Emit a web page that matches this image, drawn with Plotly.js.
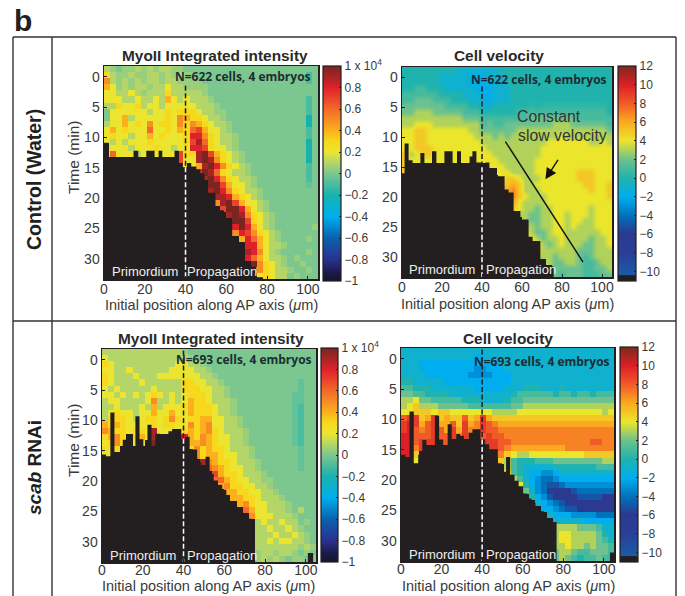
<!DOCTYPE html>
<html><head><meta charset="utf-8">
<script src="https://cdn.plot.ly/plotly-3.0.1.min.js"></script>
<style>html,body{margin:0;padding:0;background:#fff}#c{width:685px;height:596px}</style>
</head><body><div id="c"></div>
<script>
const _ = null;
const xCells = [1.5,4.5,7.5,10.5,13.5,16.5,19.5,22.5,25.5,28.5,31.5,34.5,37.5,40.5,43.5,46.5,49.5,52.5,55.5,58.5,61.5,64.5,67.5,70.5,73.5,76.5,79.5,82.5,85.5,88.5,91.5,94.5,97.5,100.5,103.5];
const yCells = [-1.25,-0.25,0.75,1.75,2.75,3.75,4.75,5.75,6.75,7.75,8.75,9.75,10.75,11.75,12.75,13.75,14.75,15.75,16.75,17.75,18.75,19.75,20.75,21.75,22.75,23.75,24.75,25.75,26.75,27.75,28.75,29.75,30.75,31.75,32.75];

const myoControl = [
[1,.5,0,.5,.5, 1,.5,1,.5,1, 1,.5,.5,0,0, 0,0,0,0,0, 0,0,0,0,0, 0,0,0,0,0, 0,0,0,0,0],
[3,1,.5,.5,1, .5,.5,1,1,.5, 1,.5,1,.5,.5, 0,0,0,0,0, 0,0,0,0,0, 0,0,0,0,0, 0,0,0,-1,0],
[5,1,.5,1,.5, 1,.5,1,1,.5, 1,1,.5,.5,.5, .5,0,0,0,0, 0,0,0,0,0, 0,0,0,0,0, 0,0,0,-1,0],
[4,2,.5,1,.5, 1,1,.5,1,1, 2,1,1,.5,.5, .5,.5,0,0,0, 0,0,0,0,0, 0,0,0,0,0, 0,0,0,0,0],
[2,2,1,1,2, 1,.5,1,1,1, 3,1,1,1,1, 1,.5,0,0,0, 0,0,0,0,0, 0,0,0,0,0, 0,0,0,0,0],
[2,2,2,1,1, 2,1,1,2,1, 4,2,1,2,1, 1,1,.5,0,0, 0,0,0,0,0, 0,0,0,0,0, 0,0,0,-1,0],
[1,1,3,2,2, 3,1,2,2,1, 2,2,2,2,2, 1,1,1,.5,0, 0,0,0,0,0, 0,0,0,0,0, 0,0,0,-1,0],
[0,2,2,2,2, 2,2,1,2,2, 3,2,3,3,3, 2,1,1,.5,.5, 0,0,0,0,0, 0,0,0,0,0, 0,0,0,-1,0],
[0,2,2,4,1, 2,2,2,2,2, 3,2,5,4,3, 3,2,1,1,.5, 0,0,0,0,0, 0,0,0,0,0, 0,0,0,-2,0],
[1,2,2,4,2, 3,2,5,2,3, 3,2,5,3,5, 4,3,2,1,1, .5,0,0,0,0, 0,0,0,0,0, 0,0,0,-2,0],
[2,4,2,3,2, 2,2,6,2,2, 3,2,4,3,6, 7,4,2,2,1, .5,0,0,0,0, 0,0,0,0,0, 0,0,0,-1,0],
[2,3,2,2,1, 2,2,4,2,3, 2,2,2,3,8, 8,5,3,2,1, 1,.5,0,0,0, 0,0,0,0,0, 0,0,0,-1,0],
[2,1,2,1,2, 2,2,3,2,2, 2,2,2,3,7, 9,6,3,2,1, 1,.5,0,0,0, 0,0,0,0,0, 0,0,0,-2,0],
[3,2,2,2,1, 2,2,2,3,2, 2,1,2,2,8, 8,7,3,2,2, 1,.5,0,0,0, 0,0,0,0,0, 0,0,0,-2,0],
[2,6,2,2,2, 1,2,2,2,2, 2,2,7,3,3, 9,10,7,4,3, 2,1,.5,0,0, 0,0,0,0,0, 0,0,0,-2,0],
[_,_,_,_,_, _,_,_,_,_, _,_,7,2,2, 9,10,9,5,3, 2,1,.5,0,0, 0,0,0,0,0, 0,0,0,-2,0],
[_,_,_,_,_, _,_,_,_,_, _,_,5,2,2, 4,9,10,8,5, 3,2,1,.5,0, 0,0,0,0,0, 0,0,0,-1,0],
[_,_,_,_,_, _,_,_,_,_, _,_,_,_,_, 8,10,9,6,3, 2,1,1,.5,0, 0,0,0,0,0, 0,0,0,-1,0],
[_,_,_,_,_, _,_,_,_,_, _,_,_,_,_, _,9,10,8,5, 3,2,1,1,.5, 0,0,0,0,0, 0,0,0,-1,0],
[_,_,_,_,_, _,_,_,_,_, _,_,_,_,_, _,_,10,10,7, 4,2,2,1,.5, 0,0,0,0,0, 0,0,0,-.5,0],
[_,_,_,_,_, _,_,_,_,_, _,_,_,_,_, _,_,9,10,8, 5,3,2,1,1, .5,0,0,0,0, 0,0,0,0,0],
[_,_,_,_,_, _,_,_,_,_, _,_,_,_,_, _,_,_,9,9, 8,4,3,2,1, .5,0,0,0,0, 0,0,0,0,0],
[_,_,_,_,_, _,_,_,_,_, _,_,_,_,_, _,_,_,5,9, 10,7,4,2,2, 1,.5,0,0,0, 0,0,0,0,0],
[_,_,_,_,_, _,_,_,_,_, _,_,_,_,_, _,_,_,_,7, 10,10,8,4,2, 1,.5,0,0,0, 0,0,0,0,0],
[_,_,_,_,_, _,_,_,_,_, _,_,_,_,_, _,_,_,_,_, 9,10,9,5,3, 2,1,.5,0,0, 0,0,0,0,0],
[_,_,_,_,_, _,_,_,_,_, _,_,_,_,_, _,_,_,_,_, _,10,10,7,3, 2,1,.5,0,0, 0,0,0,0,0],
[_,_,_,_,_, _,_,_,_,_, _,_,_,_,_, _,_,_,_,_, _,8,10,8,4, 2,1,.5,0,0, 0,0,0,0,.5],
[_,_,_,_,_, _,_,_,_,_, _,_,_,_,_, _,_,_,_,_, _,5,8,7,5, 3,2,1,.5,0, 0,0,0,0,0],
[_,_,_,_,_, _,_,_,_,_, _,_,_,_,_, _,_,_,_,_, _,_,4,8,6, 4,2,1,.5,0, 0,0,0,.5,0],
[_,_,_,_,_, _,_,_,_,_, _,_,_,_,_, _,_,_,_,_, _,_,_,8,8, 4,2,1,1,.5, 0,0,0,0,0],
[_,_,_,_,_, _,_,_,_,_, _,_,_,_,_, _,_,_,_,_, _,_,_,9,8, 5,2,1,.5,0, 0,0,0,.5,0],
[_,_,_,_,_, _,_,_,_,_, _,_,_,_,_, _,_,_,_,_, _,_,_,8,6, 4,2,1,1,.5, 0,.5,0,0,0],
[_,_,_,_,_, _,_,_,_,_, _,_,_,_,_, _,_,_,_,_, _,_,_,_,10, 5,3,2,1,.5, 0,0,.5,0,0],
[_,_,_,_,_, _,_,_,_,_, _,_,_,_,_, _,_,_,_,_, _,_,_,_,4, 5,3,2,1,1, .5,0,0,.5,0],
[_,_,_,_,_, _,_,_,_,_, _,_,_,_,_, _,_,_,_,_, _,_,_,_,_, 2,3,2,1,1, 0,.5,0,0,0]];

const velControl = [
[0,0,0,0,0, 0,0,0,0,-1, -1,-1,-1,-1,-1, -1,0,0,0,0, 0,0,0,0,0, 0,0,0,0,0, 0,0,0,0,0],
[0,0,0,0,0, 0,-1,-1,-1,-1, -1,-2,-2,-2,-1, -1,-1,0,0,0, 0,0,0,0,0, 0,0,0,0,0, 0,0,0,0,0],
[0,0,0,0,0, 0,-1,-1,-1,-1, -1,-2,-2,-2,-2, -1,-1,0,0,0, 0,0,0,0,0, 0,0,0,0,0, 0,0,0,0,0],
[0,0,1,1,0, 0,0,-1,-1,-1, -1,-1,-2,-2,-2, -1,-1,-1,0,0, 0,0,0,0,0, 0,0,0,0,0, 0,0,0,0,0],
[1,1,1,1,1, 1,0,0,0,0, -1,-1,-1,-2,-2, -1,-1,-1,0,0, 0,0,0,0,0, 0,0,0,0,0, 0,0,0,0,0],
[1,1,2,2,2, 1,1,1,0,0, 0,-1,-1,-1,-2, -1,-1,-1,0,0, 0,0,0,0,0, 0,0,0,0,0, 0,0,0,0,0],
[2,2,2,2,2, 2,2,1,1,1, 1,0,0,-1,-1, 0,0,0,0,0, 0,.5,0,.5,.5, .5,.5,.5,.5,.5, .5,.5,.5,.5,0],
[2,2,3,3,3, 2,2,2,2,2, 1,1,1,0,0, 0,0,0,0,1, 1,1,1,1,1, 1,1,1,1,1, 1,1,1,1,0],
[3,3,3,3,3, 3,3,3,3,3, 2,2,2,1,1, 1,1,1,1,1, 1,2,2,2,2, 2,2,2,2,1, 1,1,1,1,1],
[3,3,4,4,4, 3,3,3,3,3, 3,3,3,1,2, 1,1,2,2,2, 2,2,2,2,2, 3,3,3,2,2, 2,2,2,2,1],
[4,4,5,5,4, 4,4,4,4,4, 4,3,3,2,2, 2,2,2,2,3, 3,3,3,3,3, 3,3,3,3,3, 3,3,3,3,2],
[4,4,5,5,4, 4,4,4,4,4, 4,4,3,3,3, 2,3,2,3,3, 3,3,3,3,3, 3,4,3,3,3, 3,3,3,3,3],
[4,4,5,5,4, 4,4,4,4,4, 4,4,4,3,3, 3,3,3,3,3, 3,3,3,3,4, 4,4,4,4,4, 4,3,3,4,3],
[4,4,5,5,5, 4,4,4,4,4, 4,4,4,4,3, 3,3,3,3,3, 3,3,3,4,4, 4,4,4,4,4, 4,4,4,4,4],
[5,3,4,5,5, 4,4,4,4,4, 4,4,4,4,4, 3,3,3,3,3, 3,3,3,4,4, 4,4,4,4,4, 4,4,4,4,4],
[5,4,4,4,4, 4,4,4,4,4, 4,4,4,4,4, 4,3,3,3,3, 3,3,4,4,4, 4,4,4,4,4, 4,4,4,4,4],
[5,_,_,_,_, _,_,_,_,_, _,_,_,_,4, 4,4,3,3,3, 3,3,4,4,4, 4,4,4,4,4, 4,4,4,4,4],
[5,_,_,_,_, _,_,_,_,_, _,_,_,_,_, 4,4,4,3,3, 3,3,4,4,4, 4,4,4,4,5, 5,5,4,4,4],
[_,_,_,_,_, _,_,_,_,_, _,_,_,_,_, _,4,5,5,4, 3,3,3,4,4, 4,4,4,4,5, 5,5,4,4,4],
[_,_,_,_,_, _,_,_,_,_, _,_,_,_,_, _,_,5,6,5, 3,3,4,4,4, 4,4,4,4,4, 5,5,4,4,5],
[_,_,_,_,_, _,_,_,_,_, _,_,_,_,_, _,_,6,7,5, 3,3,3,4,4, 4,4,4,4,4, 4,5,4,4,5],
[_,_,_,_,_, _,_,_,_,_, _,_,_,_,_, _,_,_,7,5, 4,3,3,3,4, 4,4,4,4,4, 4,4,4,4,5],
[_,_,_,_,_, _,_,_,_,_, _,_,_,_,_, _,_,_,6,4, 3,3,3,3,4, 4,4,4,4,4, 4,4,4,4,4],
[_,_,_,_,_, _,_,_,_,_, _,_,_,_,_, _,_,_,5,4, 3,3,2,3,3, 4,4,4,4,4, 4,3,4,4,4],
[_,_,_,_,_, _,_,_,_,_, _,_,_,_,_, _,_,_,_,3, 3,2,2,3,3, 4,4,3,4,4, 4,3,4,4,4],
[_,_,_,_,_, _,_,_,_,_, _,_,_,_,_, _,_,_,_,_, 3,2,2,3,3, 4,4,3,4,4, 3,3,4,4,4],
[_,_,_,_,_, _,_,_,_,_, _,_,_,_,_, _,_,_,_,_, 3,3,2,3,3, 4,4,3,4,3, 3,3,4,4,4],
[_,_,_,_,_, _,_,_,_,_, _,_,_,_,_, _,_,_,_,_, 4,3,2,2,3, 4,4,3,3,3, 3,3,3,4,4],
[_,_,_,_,_, _,_,_,_,_, _,_,_,_,_, _,_,_,_,_, _,4,3,2,3, 3,4,3,3,3, 3,2,3,3,4],
[_,_,_,_,_, _,_,_,_,_, _,_,_,_,_, _,_,_,_,_, _,_,4,3,2, 3,4,3,3,3, 2,2,3,3,4],
[_,_,_,_,_, _,_,_,_,_, _,_,_,_,_, _,_,_,_,_, _,_,4,3,3, 3,3,3,3,2, 2,2,3,3,3],
[_,_,_,_,_, _,_,_,_,_, _,_,_,_,_, _,_,_,_,_, _,_,_,3,3, 2,3,3,3,2, 1,2,3,3,3],
[_,_,_,_,_, _,_,_,_,_, _,_,_,_,_, _,_,_,_,_, _,_,_,_,3, 2,2,3,3,2, 1,1,2,3,3],
[_,_,_,_,_, _,_,_,_,_, _,_,_,_,_, _,_,_,_,_, _,_,_,_,_, 2,2,2,2,2, 1,1,2,2,3],
[_,_,_,_,_, _,_,_,_,_, _,_,_,_,_, _,_,_,_,_, _,_,_,_,_, 2,1,2,2,2, 1,1,1,2,2]];

const myoScab = [
[1,1,1,1,1, 1,1,1,1,1, 1,1,1,.5,0, 0,0,0,0,0, 0,0,0,0,0, 0,0,0,0,0, 0,0,0,0,0],
[2,1,1,1,1, 1,1,1,1,1, 1,1,1,1,.5, .5,0,0,0,0, 0,0,0,0,0, 0,0,0,0,0, 0,0,0,0,0],
[3,2,1,1,1, 1,1,1,1,1, 1,1,2,2,1, 1,.5,0,0,0, 0,0,0,0,0, 0,0,0,0,0, 0,0,0,0,0],
[2,2,1,1,2, 1,1,1,1,1, 1,2,2,2,2, 1,1,.5,0,0, 0,0,0,0,0, 0,0,0,0,0, 0,0,0,0,0],
[3,2,1,1,1, 2,1,1,1,2, 2,2,2,2,2, 2,1,1,.5,0, 0,0,0,0,0, 0,0,0,0,0, 0,0,0,0,0],
[3,2,1,1,1, 1,2,1,1,1, 1,1,1,3,3, 2,2,1,1,.5, 0,0,0,0,0, 0,0,0,0,0, 0,0,-.5,0,0],
[2,1,2,1,1, 1,1,1,2,1, 1,1,1,3,3, 3,2,2,1,1, .5,0,0,0,0, 0,0,0,0,0, 0,0,-.5,0,0],
[2,2,1,2,1, 2,1,2,3,2, 1,2,1,2,3, 3,3,2,1,1, .5,0,0,0,0, 0,0,0,0,0, 0,-.5,-.5,0,0],
[1,2,2,1,1, 1,1,2,5,1, 1,2,1,2,4, 3,3,2,1,1, 1,.5,0,0,0, 0,0,0,0,0, 0,-.5,-.5,0,0],
[1,1,2,1,1, 1,2,1,4,1, 2,2,2,3,4, 3,3,3,2,1, 1,.5,0,0,0, 0,0,0,0,0, 0,-.5,-1,0,0],
[1,2,3,2,2, 1,2,2,4,2, 2,4,2,2,4, 3,3,3,2,1, 1,.5,0,0,0, 0,0,0,0,0, 0,-.5,-1,0,0],
[1,3,3,3,2, 1,2,3,3,2, 3,5,3,2,3, 3,4,4,2,2, 1,1,.5,0,0, 0,0,0,0,0, 0,-.5,-1,0,0],
[4,3,4,3,2, 2,2,2,3,2, 3,3,2,2,5, 3,4,5,2,2, 1,1,.5,0,0, 0,0,0,0,0, 0,-.5,-1,0,0],
[5,4,3,3,2, 3,3,2,9,2, 2,2,2,3,4, 3,4,5,3,2, 1,1,1,.5,0, 0,0,0,0,0, 0,-.5,-1,0,0],
[3,4,5,3,_, 3,4,2,9,_, _,_,_,8,4, 3,5,4,3,2, 2,1,1,.5,0, 0,0,0,0,0, 0,-.5,-1,0,0],
[2,3,5,3,_, 2,2,_,10,_, _,_,_,5,4, 4,5,4,3,2, 2,1,1,.5,0, 0,0,0,0,0, 0,-.5,-1,0,0],
[3,2,3,_,_, _,_,_,_,_, _,_,_,_,3, 5,3,4,3,3, 2,1,1,1,.5, 0,0,0,0,0, 0,0,-.5,0,0],
[2,2,_,_,_, _,_,_,_,_, _,_,_,_,_, 5,3,4,4,3, 2,2,1,1,.5, 0,0,0,0,0, 0,0,-.5,0,0],
[_,_,_,_,_, _,_,_,_,_, _,_,_,_,_, _,9,5,4,3, 3,2,1,1,1, .5,0,0,0,0, 0,0,-.5,0,0],
[_,_,_,_,_, _,_,_,_,_, _,_,_,_,_, _,_,6,5,4, 3,2,2,1,1, .5,0,0,0,0, 0,0,-.5,0,0],
[_,_,_,_,_, _,_,_,_,_, _,_,_,_,_, _,_,_,7,4, 3,3,2,1,1, 1,.5,0,0,0, 0,0,0,0,0],
[_,_,_,_,_, _,_,_,_,_, _,_,_,_,_, _,_,_,6,6, 4,3,2,2,1, 1,.5,.5,0,0, 0,0,0,0,0],
[_,_,_,_,_, _,_,_,_,_, _,_,_,_,_, _,_,_,_,4, 5,3,3,2,2, 1,1,.5,0,0, 0,0,0,0,0],
[_,_,_,_,_, _,_,_,_,_, _,_,_,_,_, _,_,_,_,_, 4,4,3,3,2, 2,1,1,.5,0, 0,0,0,0,0],
[_,_,_,_,_, _,_,_,_,_, _,_,_,_,_, _,_,_,_,_, _,4,4,3,3, 2,1,1,1,.5, 0,0,0,0,0],
[_,_,_,_,_, _,_,_,_,_, _,_,_,_,_, _,_,_,_,_, _,_,4,5,3, 2,2,1,1,1, .5,0,0,0,0],
[_,_,_,_,_, _,_,_,_,_, _,_,_,_,_, _,_,_,_,_, _,_,_,6,4, 2,2,1,1,1, .5,0,1,0,0],
[_,_,_,_,_, _,_,_,_,_, _,_,_,_,_, _,_,_,_,_, _,_,_,_,5, 2,2,2,1,1, 1,.5,0,0,0],
[_,_,_,_,_, _,_,_,_,_, _,_,_,_,_, _,_,_,_,_, _,_,_,_,_, 1,2,1,1,2, 1,1,0,.5,0],
[_,_,_,_,_, _,_,_,_,_, _,_,_,_,_, _,_,_,_,_, _,_,_,_,_, 1,1,2,1,1, 2,1,.5,0,0],
[_,_,_,_,_, _,_,_,_,_, _,_,_,_,_, _,_,_,_,_, _,_,_,_,_, 1,1,1,2,1, 1,2,1,.5,0],
[_,_,_,_,_, _,_,_,_,_, _,_,_,_,_, _,_,_,_,_, _,_,_,_,_, 1,1,2,1,2, 2,1,1,.5,0],
[_,_,_,_,_, _,_,_,_,_, _,_,_,_,_, _,_,_,_,_, _,_,_,_,_, 1,1,1,1,1, 1,1,.5,1,.5],
[_,_,_,_,_, _,_,_,_,_, _,_,_,_,_, _,_,_,_,_, _,_,_,_,_, .5,1,1,.5,1, 1,.5,0,.5,0],
[_,_,_,_,_, _,_,_,_,_, _,_,_,_,_, _,_,_,_,_, _,_,_,_,_, .5,1,.5,1,.5, 0,.5,.5,0,.5]];

const velScab = [
[-1,-1,-1,-1,-1, -1,-1,-1,-1,-1, -1,-1,-1,-1,-1, -1,-1,-1,-1,-1, -1,-1,-1,-1,-1, -1,-1,-1,-1,-1, -1,-1,-1,-1,-1],
[-1,-1,-1,-1,-1, -1,-1,-1,-1,-1, -1,-1,-2,-2,-1, -1,-1,-1,-1,-1, -1,-1,-1,-1,-1, -1,-1,-1,-1,-1, -1,-1,-1,-1,-1],
[-1,-1,-1,-2,-2, -2,-2,-2,-2,-2, -2,-2,-2,-2,-2, -2,-1,-1,-1,-1, -1,-1,-1,-1,-1, -1,-1,-1,-1,-1, -1,-1,-1,-1,-1],
[-1,-1,-1,-2,-2, -2,-2,-2,-2,-2, -2,-2,-3,-3,-2, -2,-2,-1,-1,-1, -1,-1,-1,-1,-1, -1,-1,-1,-1,-1, -1,-1,-1,-1,-1],
[-1,-1,-1,-1,-2, -2,-2,-2,-2,-2, -2,-3,-3,-3,-3, -2,-2,-2,-1,-1, -1,-1,-1,-1,-1, -1,-1,-1,-1,-1, -1,-1,-1,-1,-1],
[0,0,-1,-1,-1, -1,-1,-2,-2,-2, -2,-2,-2,-2,-2, -2,-2,-2,-1,-1, -1,-1,-1,-1,-1, -1,-1,-1,-1,-1, -1,-1,-1,-1,-1],
[1,1,0,0,0, -1,-1,-1,-1,-1, -1,-1,-2,-2,-2, -2,-2,-1,-1,-1, 0,0,0,-1,-1, -1,0,-1,-1,-1, -1,-1,-1,-1,-1],
[2,2,1,1,0, 0,0,0,-1,-1, -1,-1,-1,-1,-1, -1,-1,-1,0,1, 1,1,1,1,1, 0,1,1,0,1, 1,0,1,1,1],
[3,3,4,2,2, 1,1,1,1,1, 0,0,0,-1,-1, -1,-1,0,1,1, 2,2,2,2,2, 2,2,2,2,2, 2,2,2,2,2],
[3,4,5,3,3, 3,2,2,2,2, 2,1,1,1,1, 1,1,1,2,2, 3,3,3,3,3, 3,3,3,3,3, 3,3,3,3,3],
[4,4,5,5,5, 4,5,5,4,4, 4,4,4,4,4, 3,3,3,3,4, 4,4,4,4,4, 4,4,4,4,4, 4,4,4,3,4],
[8,9,9,5,6, 9,5,6,5,5, 8,5,6,9,6, 5,5,5,5,5, 5,5,5,5,5, 5,5,5,5,5, 5,5,5,5,5],
[9,10,9,6,8, 9,6,6,8,5, 9,6,7,9,8, 7,6,6,6,6, 6,6,6,6,6, 6,6,6,6,6, 6,6,6,6,6],
[9,10,8,7,8, 9,8,6,9,6, 9,7,7,9,8, 8,7,7,7,7, 7,7,7,7,7, 7,7,7,7,7, 7,7,7,7,7],
[10,10,8,8,8, 9,8,8,9,7, 9,7,8,8,9, 8,8,7,7,7, 7,7,7,7,7, 7,7,7,7,7, 7,7,7,7,7],
[10,10,8,9,9, 9,8,8,_,_, _,_,_,10,9, 9,8,8,7,7, 7,7,7,7,7, 7,7,7,7,7, 7,8,8,7,7],
[10,10,7,9,_, _,_,_,_,_, _,_,_,_,9, 9,8,7,6,6, 6,6,6,6,6, 6,6,7,7,7, 7,7,7,7,7],
[10,10,5,_,_, _,_,_,_,_, _,_,_,_,_, 8,7,5,4,3, 3,4,4,4,4, 4,4,4,4,4, 5,5,5,5,5],
[_,_,4,_,_, _,_,_,_,_, _,_,_,_,_, _,5,3,1,0, 0,0,1,1,1, 2,2,2,2,2, 2,2,2,3,3],
[_,_,_,_,_, _,_,_,_,_, _,_,_,_,_, _,_,3,1,0, -1,-1,-1,-1,-1, 0,0,0,0,0, 0,0,1,1,1],
[_,_,_,_,_, _,_,_,_,_, _,_,_,_,_, _,_,4,1,0, -1,-2,-2,-3,-3, -2,-1,-1,-1,-1, -1,-1,-1,-1,-1],
[_,_,_,_,_, _,_,_,_,_, _,_,_,_,_, _,_,_,3,1, -1,-2,-3,-4,-4, -3,-2,-2,-2,-2, -2,-2,-2,-2,-2],
[_,_,_,_,_, _,_,_,_,_, _,_,_,_,_, _,_,_,_,4, 0,-2,-3,-4,-5, -5,-4,-3,-3,-3, -3,-3,-3,-3,-3],
[_,_,_,_,_, _,_,_,_,_, _,_,_,_,_, _,_,_,_,_, 2,-1,-3,-4,-6, -6,-6,-6,-5,-4, -4,-4,-4,-4,-4],
[_,_,_,_,_, _,_,_,_,_, _,_,_,_,_, _,_,_,_,_, _,0,-2,-3,-5, -6,-6,-6,-6,-5, -5,-5,-5,-6,-6],
[_,_,_,_,_, _,_,_,_,_, _,_,_,_,_, _,_,_,_,_, _,_,-1,-2,-3, -4,-5,-6,-6,-6, -6,-6,-6,-6,-6],
[_,_,_,_,_, _,_,_,_,_, _,_,_,_,_, _,_,_,_,_, _,_,_,-2,-2, -3,-4,-5,-5,-6, -6,-6,-6,-6,-6],
[_,_,_,_,_, _,_,_,_,_, _,_,_,_,_, _,_,_,_,_, _,_,_,_,-1, -2,-2,-2,-3,-3, -3,-3,-4,-4,-4],
[_,_,_,_,_, _,_,_,_,_, _,_,_,_,_, _,_,_,_,_, _,_,_,_,_, -1,-1,-1,-1,-1, -2,-2,-2,-2,-2],
[_,_,_,_,_, _,_,_,_,_, _,_,_,_,_, _,_,_,_,_, _,_,_,_,_, 3,3,3,3,2, 2,2,1,-1,-1],
[_,_,_,_,_, _,_,_,_,_, _,_,_,_,_, _,_,_,_,_, _,_,_,_,_, 3,4,4,3,3, 3,3,2,0,-1],
[_,_,_,_,_, _,_,_,_,_, _,_,_,_,_, _,_,_,_,_, _,_,_,_,_, 3,4,4,3,3, 3,3,2,1,0],
[_,_,_,_,_, _,_,_,_,_, _,_,_,_,_, _,_,_,_,_, _,_,_,_,_, 3,3,4,3,3, 2,3,2,2,1],
[_,_,_,_,_, _,_,_,_,_, _,_,_,_,_, _,_,_,_,_, _,_,_,_,_, 2,3,3,2,1, 1,2,2,2,1],
[_,_,_,_,_, _,_,_,_,_, _,_,_,_,_, _,_,_,_,_, _,_,_,_,_, 2,3,2,1,0, 1,1,2,1,1]];

// black (no-cell) region: left edge of each column step and the time it starts
const edgeX1 = [0,2.45,4.4,6.9,8.8,10.6,12.6,14.5,16.8,20.75,24.8,26.8,28.6,30.6,32.5,34.6,36.8,38.7,40.7,42.8,45.3,47.2,49.3,51,54.7,58.8,62.9,64.9,69,71.4,74.7,78,105];
const edgeT1 = [10.9,13.3,13.8,13.3,13.8,14.4,13.8,12.2,13.5,12.2,13.8,12.2,14,13.3,13.8,12.2,14.2,14.9,14.2,14.8,15.3,15.9,17,19.1,22,24,26.4,27.7,30.5,31.3,33,33.3,33.3];
const edgeX2 = [0,1.3,3.3,5.3,9.2,11.2,15,17.2,21.2,25.3,27.5,29.5,33.8,35.2,37.2,39.5,41.7,43.7,47.5,51.3,53.3,55.8,59.2,63.3,65.3,69.2,71.7,75.8,105];
const edgeT2 = [16,11,13.8,14.4,12.6,14.6,12.3,14.4,12.3,14.3,12.3,14.3,13.2,12.3,14.2,15.1,14.2,15.1,16.5,18.7,19.2,22.3,23.7,26.6,27.3,30.4,31.5,33.3,33.3];
const edgeX3 = [0,2,4.1,6.1,8.2,10.2,12.3,16.4,18.4,20.3,22.3,24.3,26.2,28.5,30.7,32.6,34.4,38.9,40.8,43,44.6,46.7,48.7,50.8,52.8,54.8,56.9,59,61,63,65.1,69.2,73.3,74.9,101,103.6,105];
const edgeT3 = [15.6,15.9,8.7,16.9,15.6,13.2,14.5,9.3,13.1,14.9,10.7,14.5,12.2,12.5,13.1,11.8,11.4,13.1,12.7,14.7,14.8,16.9,18.2,16,18.8,19.9,20.6,21.4,23.4,24.2,24.8,26.2,26.7,33.3,31.8,33.3,33.3];
const edgeX4 = [0,2.2,4.2,6.3,8.5,10.5,12.5,16.7,18.8,20.8,23,25,27.2,29.2,31,33.3,35.2,39.2,41.3,43.5,47.7,49.7,51.8,53.8,56,58,60.2,62.2,64.3,66.3,70.5,74.7,76.7,103,105];
const edgeT4 = [15.8,16.2,8.7,17.2,15.8,13.4,14.8,9.4,13.3,15.1,10.8,14.7,12.4,12.7,13.4,12.2,11.6,13.3,14.1,14.9,17.2,18.6,16.2,19.1,20.1,21,22.2,23,23.7,25.1,26.8,26.9,33.3,31.9,33.3];

const myoTicks = [-10,-8,-6,-4,-2,0,2,4,6,8,10];
const myoLabels = ['−1','−0.8','−0.6','−0.4','−0.2','0','0.2','0.4','0.6','0.8','1 x 10<sup>4</sup>'];
const velTicks = [-10,-8,-6,-4,-2,0,2,4,6,8,10,12];
const velLabels = ['−10','−8','−6','−4','−2','0','2','4','6','8','10','12'];
const timeTicks = [0,5,10,15,20,25,30];
const posTicks = [0,20,40,60,80,100];

const myoScale = [[0,'#16152e'],[0.04,'#1a1a4a'],[0.1,'#2b3190'],[0.2,'#0a62ae'],[0.3,'#00aeef'],[0.4,'#18b2ae'],[0.5,'#7cc78f'],[0.55,'#b4d668'],[0.6,'#ece52f'],[0.65,'#f7d81c'],[0.7,'#fbb01c'],[0.8,'#f2692a'],[0.9,'#e0202a'],[0.95,'#a82424'],[1,'#7b2520']];
const velScale = [[0,'#231f20'],[0.025,'#231f20'],[0.03,'#1b5aa8'],[0.13,'#2a3f97'],[0.22,'#2b3990'],[0.304,'#0072bc'],[0.391,'#00aeef'],[0.478,'#20b3ad'],[0.565,'#6cc18e'],[0.609,'#b0d25a'],[0.652,'#ebe52c'],[0.739,'#fbaa1d'],[0.826,'#f15a29'],[0.913,'#dc1f26'],[1,'#7b2a1e']];

const W = 685, H = 596, INK = '#231f20', TXT = '#3a3a3a', FONT = '"Liberation Sans", Arial, sans-serif';

const panels = [
 {s:'',  z:myoControl, scale:myoScale, zr:[-10,10], tv:myoTicks, tt:myoLabels, smooth:false, ex:edgeX1, et:edgeT1, box:[104,66,318,279], cb:[323,66,341,281], title:'MyoII Integrated intensity', tx:215, ty:55, xtx:211, xty:305, shift:-3, n:'N=622 cells, 4 embryos', nx:68.3, ny:0, dashTop:1.5, dashMid:14.9, px:20, gx:58, ly:32},
 {s:'2', z:velControl, scale:velScale, zr:[-11,12], tv:velTicks, tt:velLabels, smooth:'best', ex:edgeX2, et:edgeT2, box:[402,67,612,277], cb:[618,66,636,281], title:'Cell velocity', tx:499, ty:55, xtx:507, xty:304, shift:-3, n:'N=622 cells, 4 embryos', nx:68.7, ny:0.4, dashTop:1.5, dashMid:15, px:20, gx:59.5, ly:32},
 {s:'3', z:myoScab,    scale:myoScale, zr:[-10,10], tv:myoTicks, tt:myoLabels, smooth:false, ex:edgeX3, et:edgeT3, box:[102,349,316,562], cb:[321,348,338,562], title:'MyoII Integrated intensity', tx:211, ty:338, xtx:208, xty:586, shift:-5, n:'N=693 cells, 4 embryos', nx:69.5, ny:0, dashTop:-1.5, dashMid:13, px:20.3, gx:58.9, ly:32.2},
 {s:'4', z:velScab,    scale:velScale, zr:[-11,12], tv:velTicks, tt:velLabels, smooth:false, ex:edgeX4, et:edgeT4, box:[401,348,614,561], cb:[620,347,638,562], title:'Cell velocity', tx:508, ty:338, xtx:508, xty:586, shift:-5, n:'N=693 cells, 4 embryos', nx:69.7, ny:0.5, dashTop:-1.5, dashMid:13.3, px:20, gx:59, ly:32.2}
];

const data = [], annotations = [], shapes = [], layout = {
  width:W, height:H, margin:{l:0,r:0,t:0,b:0,pad:0}, paper_bgcolor:'#fff', plot_bgcolor:INK,
  showlegend:false, font:{family:FONT, color:TXT}
};

panels.forEach((p,i)=>{
  const xa='x'+p.s, ya='y'+p.s;
  const [l,t,r,b]=p.box, [cl,ct,cr,cb]=p.cb;
  layout['xaxis'+p.s]={domain:[l/W,r/W], range:[0,105], tickmode:'array', tickvals:posTicks, ticks:'inside', ticklen:3, tickwidth:1, tickcolor:INK,
    showgrid:false, zeroline:false, showline:true, linecolor:INK, linewidth:1.5, mirror:true, tickfont:{size:14,color:TXT}, ticklabelstandoff:p.shift, anchor:ya};
  layout['yaxis'+p.s]={domain:[1-b/H,1-t/H], range:[33.3,-1.75], tickmode:'array', tickvals:timeTicks, ticks:'inside', ticklen:3, tickwidth:1, tickcolor:INK,
    showgrid:false, zeroline:false, showline:true, linecolor:INK, linewidth:1.5, mirror:true, tickfont:{size:14,color:TXT}, anchor:xa};
  data.push({type:'heatmap', x:xCells, y:yCells, z:p.z, xaxis:xa, yaxis:ya, colorscale:p.scale, zmin:p.zr[0], zmax:p.zr[1], zsmooth:p.smooth, hoverinfo:'skip',
    colorbar:{x:cl/W, xanchor:'left', xpad:0, ypad:0, y:1-ct/H, yanchor:'top', len:(cb-ct)/H, lenmode:'fraction', thickness:cr-cl, thicknessmode:'pixels',
      outlinewidth:1.2, outlinecolor:INK, borderwidth:0, tickmode:'array', tickvals:p.tv, ticktext:p.tt, ticks:'inside', ticklen:2, tickcolor:INK, tickfont:{size:12,color:TXT}}});
  const bottom = 33.3;
  data.push({type:'scatter', mode:'none', x:p.ex.concat([p.ex[p.ex.length-1],0]), y:p.et.concat([bottom,bottom]), xaxis:xa, yaxis:ya, fill:'toself', fillcolor:INK, line:{shape:'hv',width:0}, hoverinfo:'skip'});
  data.push({type:'scatter', mode:'lines', x:[40,40], y:[p.dashTop,p.dashMid], xaxis:xa, yaxis:ya, line:{color:INK,width:1.5,dash:'5px,2.5px'}, hoverinfo:'skip'});
  data.push({type:'scatter', mode:'lines', x:[40,40], y:[p.dashMid,bottom], xaxis:xa, yaxis:ya, line:{color:'#fff',width:1.5,dash:'5px,2.5px'}, hoverinfo:'skip'});
  annotations.push({xref:'paper',yref:'paper',x:p.tx/W,y:1-p.ty/H,text:'<b>'+p.title+'</b>',showarrow:false,font:{size:15.4,color:'#2a2a2a'},xanchor:'center',yanchor:'middle'});
  annotations.push({xref:'paper',yref:'paper',x:p.xtx/W,y:1-p.xty/H,text:'Initial position along AP axis (<i>μ</i>m)',showarrow:false,font:{size:14.5,color:TXT},xanchor:'center',yanchor:'middle',borderpad:0});
  annotations.push({xref:xa,yref:ya,x:p.nx,y:p.ny,text:'<b>'+p.n+'</b>',showarrow:false,font:{size:12,family:'"Open Sans", sans-serif',color:'#1d2c33'},xanchor:'center',yanchor:'middle'});
  annotations.push({xref:xa,yref:ya,x:p.px,y:p.ly,text:'Primordium',showarrow:false,font:{size:13,color:'#eee'},xanchor:'center',yanchor:'middle'});
  annotations.push({xref:xa,yref:ya,x:p.gx,y:p.ly,text:'Propagation',showarrow:false,font:{size:13,color:'#eee'},xanchor:'center',yanchor:'middle'});
});

[158,441].forEach(c=>{
  annotations.push({xref:'paper',yref:'paper',x:73/W,y:1-c/H,text:'Time (min)',textangle:-90,showarrow:false,font:{size:15.5,color:TXT},xanchor:'center',yanchor:'middle'});
});

// "Constant slow velocity" callout
data.push({type:'scatter', mode:'lines', x:[51.7,90.5], y:[10.7,30.8], xaxis:'x2', yaxis:'y2', line:{color:'#111',width:1.4}, hoverinfo:'skip'});
annotations.push({xref:'x2',yref:'y2',x:73.7,y:6.5,text:'Constant',showarrow:false,font:{size:15.8,color:'#333'},xanchor:'center',yanchor:'middle'});
annotations.push({xref:'x2',yref:'y2',x:80,y:9.7,text:'slow velocity',showarrow:false,font:{size:15.8,color:'#333'},xanchor:'center',yanchor:'middle'});
annotations.push({xref:'x2',yref:'y2',axref:'x2',ayref:'y2',x:71.7,y:17,ax:79.5,ay:13,showarrow:true,arrowhead:2,arrowsize:1.6,arrowwidth:1.4,arrowcolor:'#111'});

// frame and labels
annotations.push({xref:'paper',yref:'paper',x:12/W,y:1-21/H,text:'<b>b</b>',showarrow:false,font:{size:30,color:INK},xanchor:'left',yanchor:'middle'});
annotations.push({xref:'paper',yref:'paper',x:34/W,y:1-180/H,text:'<b>Control (Water)</b>',textangle:-90,showarrow:false,font:{size:19.5,color:INK},xanchor:'center',yanchor:'middle'});
annotations.push({xref:'paper',yref:'paper',x:34/W,y:1-468/H,text:'<b><i>scab</i> RNAi</b>',textangle:-90,showarrow:false,font:{size:19,color:INK},xanchor:'center',yanchor:'middle'});
[[13,37,676,37],[13,321,676,321],[13,37,13,596],[52,37,52,596],[676,37,676,596]].forEach(s=>{
  shapes.push({type:'line',xref:'paper',yref:'paper',x0:s[0]/W,y0:1-s[1]/H,x1:s[2]/W,y1:1-s[3]/H,line:{color:'#333',width:1.4}});
});
layout.annotations = annotations; layout.shapes = shapes;
Plotly.newPlot('c', data, layout, {displayModeBar:false, staticPlot:true});
</script></body></html>
